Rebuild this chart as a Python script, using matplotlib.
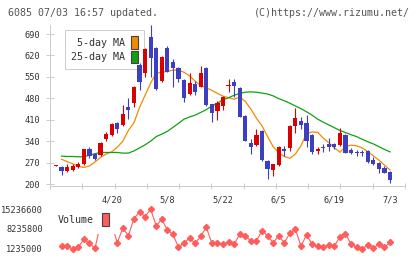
import numpy as np
import matplotlib.pyplot as plt
from matplotlib.patches import Patch

plt.rcParams['font.family'] = 'DejaVu Sans Mono'

# daily candles (61 trading days)
opens = [260, 256, 243, 246, 255, 265, 313, 297, 295, 347, 361, 399, 394, 451, 464, 589, 562, 681, 644, 536,
         644, 600, 580, 540, 494, 527, 518, 580, 461, 437, 455, 521, 532, 514, 422, 333, 327, 373, 276, 246,
         262, 314, 317, 391, 406, 400, 360, 308, 322, 331, 331, 327, 360, 311, 305, 305, 308, 278, 270, 253, 240]
highs = [262, 259, 265, 265, 273, 316, 322, 302, 338, 369, 400, 402, 458, 480, 521, 594, 643, 719, 646, 617,
         651, 607, 583, 542, 562, 537, 586, 583, 463, 471, 486, 543, 543, 516, 424, 347, 380, 376, 278, 266,
         325, 324, 392, 447, 420, 425, 362, 322, 330, 351, 333, 382, 362, 319, 311, 311, 310, 287, 272, 258, 242]
lows = [260, 229, 240, 244, 251, 263, 284, 278, 293, 341, 358, 368, 391, 412, 452, 507, 549, 548, 508, 533,
        566, 518, 534, 469, 492, 491, 516, 456, 404, 409, 442, 502, 485, 418, 340, 298, 325, 276, 216, 226,
        260, 291, 309, 368, 380, 322, 298, 298, 306, 309, 314, 325, 300, 297, 292, 292, 268, 262, 235, 236, 204]
closes = [262, 241, 256, 260, 265, 314, 291, 282, 334, 363, 396, 379, 429, 441, 518, 534, 641, 611, 510, 615,
          567, 578, 543, 482, 531, 502, 564, 458, 431, 464, 485, 524, 521, 420, 342, 322, 360, 278, 248, 265,
          322, 309, 390, 417, 393, 341, 304, 313, 317, 320, 320, 366, 302, 300, 302, 302, 273, 265, 249, 237, 213]

nan = np.nan
ma5 = [nan, 281, 273, 266, 258, 254, 259, 272, 287, 298, 305, 320, 340, 375, 400, 450, 490, 530, 562, 565,
       568, 572, 572, 565, 553, 536, 522, 514, 506, 496, 487, 482, 477, 484, 470, 445, 415, 390, 355, 322,
       302, 290, 284, 298, 325, 365, 370, 369, 350, 335, 318, 304, 322, 327, 325, 318, 306, 292, 278, 262, 246]
ma25 = [nan, 291, 290, 290, 289, 289, 294, 299, 303, 303, 303, 303, 301, 301, 308, 318, 328, 340, 355, 363,
        372, 385, 398, 412, 419, 425, 434, 443, 455, 464, 475, 482, 490, 496, 500, 501, 500, 497, 494, 488,
        479, 472, 464, 455, 446, 436, 425, 412, 402, 393, 384, 375, 368, 361, 355, 346, 338, 331, 322, 313, 305]

volume = [nan, 2170000, 2170000, 880000, 1590000, 4470000, 3030000, 1240000, 10000000, 12500000, 10000000,
          3250000, 8420000, 5760000, 11860000, 14370000, 12580000, 15240000, 9350000, 11650000, 7800000,
          6260000, 1590000, 3250000, 4830000, 3030000, 5650000, 8770000, 3030000, 3030000, 2670000,
          3500000, 2670000, 6260000, 5760000, 3860000, 3860000, 7550000, 5760000, 3250000, 5650000,
          3250000, 6620000, 8060000, 2060000, 6010000, 2780000, 2060000, 1590000, 2420000, 2060000,
          5400000, 6370000, 2780000, 1590000, 980000, 2420000, 1240000, 2780000, 1590000, 3390000]

date_pos = [10, 20, 30, 40, 50, 60]
date_labels = ['4/20', '5/8', '5/22', '6/5', '6/19', '7/3']
price_ticks = [200, 270, 340, 410, 480, 550, 620, 690]
vol_ticks = [1235000, 8235800, 15236600]

red = '#d80000'
blue = '#3e3ec0'
orange = '#f08c00'
green = '#12a012'
vol_col = '#ff5c5c'
grid_col = '#cccccc'

o = np.array(opens)
c = np.array(closes)
x = np.arange(len(o))
cols = [red if cc >= oo else blue for oo, cc in zip(o, c)]

fig = plt.figure(figsize=(4.2, 2.59), dpi=100)
ax = fig.add_axes([50/420, 1-186/259, 355/420, 161/259])
xlim = (-1.08, 62.69)

ax.vlines(x, lows, highs, colors=cols, lw=0.8, zorder=3)
ax.bar(x, np.maximum(np.abs(c - o), 2.5), bottom=np.minimum(o, c), width=0.75,
       color=cols, linewidth=0, zorder=3)
ax.plot(x, ma5, color=orange, lw=0.9, zorder=2)
ax.plot(x, ma25, color=green, lw=0.9, zorder=2)

ax.set_xlim(xlim)
ax.set_ylim(193.5, 719.5)
ax.set_yticks(price_ticks)
ax.set_yticklabels([str(t) for t in price_ticks])
ax.set_xticks(date_pos)
ax.set_xticklabels(date_labels)
ax.set_xticks(np.linspace(xlim[0], xlim[1], 12), minor=True)
ax.tick_params(axis='x', which='major', length=0, pad=6.5, labelsize=6.2, labelcolor='#333333')
ax.tick_params(axis='x', which='minor', direction='inout', length=5, width=0.7, color=grid_col)
ax.tick_params(axis='y', direction='inout', length=6, width=0.7, color=grid_col,
               pad=4, labelsize=6.2, labelcolor='#333333')
for s in ['top', 'right']:
    ax.spines[s].set_visible(False)
for s in ['left', 'bottom']:
    ax.spines[s].set_color(grid_col)
    ax.spines[s].set_linewidth(0.7)

leg = ax.legend([Patch(facecolor=orange, edgecolor='#444444', lw=0.8),
                 Patch(facecolor=green, edgecolor='#444444', lw=0.8)],
                [' 5-day MA', '25-day MA'], loc='upper left', bbox_to_anchor=(0.042, 0.969),
                borderaxespad=0, markerfirst=False, handlelength=0.65, handleheight=1.5,
                handletextpad=0.6, labelspacing=0.2, borderpad=0.65, fontsize=7.2,
                fancybox=False, framealpha=1, edgecolor=grid_col)
leg.get_frame().set_linewidth(0.7)
for t in leg.get_texts():
    t.set_color('#333333')
leg.set_zorder(1)

# volume panel
ax2 = fig.add_axes([50/420, 1-252/259, 355/420, 47/259])
ax2.plot(x, volume, color=vol_col, lw=0.8, marker='D', ms=3.1, mec=vol_col)
ax2.set_xlim(xlim)
ax2.set_ylim(-93300, 16780000)
ax2.set_xticks([])
ax2.set_yticks(vol_ticks)
ax2.set_yticklabels([str(v) for v in vol_ticks])
ax2.tick_params(axis='y', length=0, pad=5, labelsize=6.2, labelcolor='#333333')
for s in ax2.spines.values():
    s.set_visible(False)
leg2 = ax2.legend([Patch(facecolor=vol_col, edgecolor='#444444', lw=0.8)], ['Volume'],
                  loc='upper left', bbox_to_anchor=(0, 1), borderaxespad=0, markerfirst=False,
                  handlelength=0.65, handleheight=1.6, handletextpad=0.8, borderpad=0.8,
                  fontsize=7.2, fancybox=False, framealpha=1, edgecolor='none')
leg2.get_texts()[0].set_color('#333333')

fig.text(8/420, 1-12.5/259, '6085 07/03 16:57 updated.', fontsize=7.2, color='#555555', va='center')
fig.text(410/420, 1-12.5/259, '(C)https://www.rizumu.net/', fontsize=7.2, color='#555555',
         va='center', ha='right')

fig.savefig('out.png', dpi=100)
